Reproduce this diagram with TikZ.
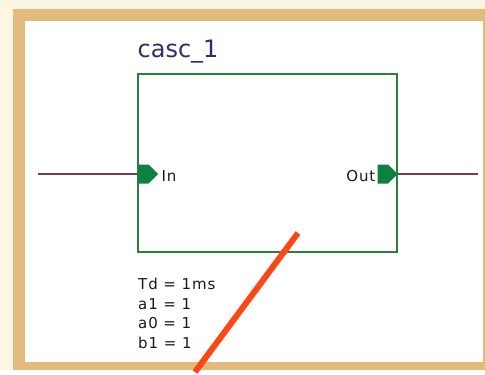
\documentclass[tikz,border=0pt]{standalone}
\usepackage{fontspec}
\setmainfont{DejaVu Sans}
\newfontfamily\schfont[LetterSpace=6]{DejaVu Sans}
\usepackage{tikz}
\usetikzlibrary{positioning, shapes.symbols}
\definecolor{cream}{HTML}{FDF6E2}
\definecolor{frametan}{HTML}{E2BA7E}
\definecolor{boxgreen}{HTML}{2E7D3A}
\definecolor{portgreen}{HTML}{0E8040}
\definecolor{wirered}{HTML}{7A3A5C}
\definecolor{titlenavy}{HTML}{2E2E6A}
\definecolor{strokeorange}{HTML}{FF4614}

\tikzset{
  port/.style={signal, signal to=east, fill=portgreen, minimum width=20pt, minimum height=19pt, inner sep=0},
  wire/.style={draw=wirered, line width=1.3pt},
  portlabel/.style={text=black!90, font=\schfont\fontsize{15}{15}\selectfont, inner sep=0}
}

\begin{document}
\begin{tikzpicture}[x=1pt, y=-1pt]
      \fill[cream] (0,0) rectangle (485,370);
      \fill[frametan] (13,9) rectangle (485,370);
      \fill[white] (25,21) rectangle (483,362);

      \node[draw=boxgreen, line width=1.2pt, minimum width=259pt, minimum height=178pt, inner sep=0] (casc) at (267.5,163) {};
      \node[anchor=base west, text=titlenavy, font=\fontsize{24}{24}\selectfont, inner sep=0] (title) at ([yshift=16pt]casc.north west) {casc\_1};

      \node[port, anchor=west] (inport) at (138,174) {};
      \node[port, anchor=east] (outport) at (398,174) {};
      \node[portlabel, right=3pt of inport, yshift=-2pt] (inlabel) {In};
      \node[portlabel, left=2pt of outport, yshift=-2pt] (outlabel) {Out};

      \coordinate (src) at (38,174);
      \coordinate (dst) at (478,174);
      \draw[wire] (src) -- (inport.west);
      \draw[wire] (outport.east) -- (dst);

      \node[anchor=north west, align=left, text=black!90, font=\schfont\fontsize{15}{19.5}\selectfont, inner sep=0] (params) at (138,278) {Td = 1ms\\a1 = 1\\a0 = 1\\b1 = 1};

      \coordinate (stroke a) at (298,233);
      \coordinate (stroke b) at (195,372);
      \draw[strokeorange, line width=6pt] (stroke a) -- (stroke b);
    \end{tikzpicture}
\end{document}
